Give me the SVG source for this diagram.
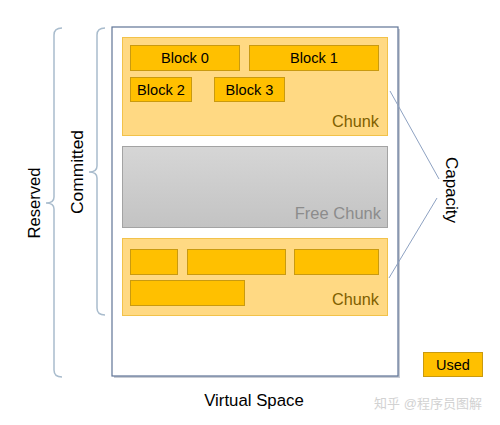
<svg xmlns="http://www.w3.org/2000/svg" width="500" height="425" viewBox="0 0 500 425">
<style>
text{font-family:"Liberation Sans",Arial,sans-serif;fill:#000}
.chunk{fill:#ffd983;stroke:#f2c24a;stroke-width:1}
.blk{fill:#ffc000;stroke:#c99a10;stroke-width:1}
.bt{font-size:14.6px;text-anchor:middle}
.ct{font-size:16.3px;text-anchor:end;fill:#7f6000}
.brace{fill:none;stroke:#a9bccd;stroke-width:1.5}
.cap{stroke:#8ea2c2;stroke-width:1}
</style>
<defs>
<linearGradient id="gray" x1="0" y1="0" x2="0" y2="1">
<stop offset="0" stop-color="#d6d6d6"/>
<stop offset="1" stop-color="#c3c3c3"/>
</linearGradient>
</defs>
<rect width="500" height="425" fill="#fff"/>
<g id="virtual-space">
<rect x="114" y="29" width="286" height="349" fill="#c8ccd4"/>
<rect x="112" y="27" width="286" height="349" fill="#fff" stroke="#5f7496" stroke-width="1.2"/>
<text x="254" y="406" font-size="16.8" text-anchor="middle">Virtual Space</text>
</g>
<g id="chunk1">
<rect class="chunk" x="122.5" y="37.5" width="265" height="98"/>
<text class="ct" x="379" y="127">Chunk</text>
</g>
<g id="block0"><rect class="blk" x="130.5" y="45.5" width="109" height="25"/><text class="bt" x="185" y="63">Block 0</text></g>
<g id="block1"><rect class="blk" x="249.5" y="45.5" width="129" height="25"/><text class="bt" x="314" y="63">Block 1</text></g>
<g id="block2"><rect class="blk" x="130.5" y="77.5" width="61" height="24"/><text class="bt" x="161" y="95">Block 2</text></g>
<g id="block3"><rect class="blk" x="214.5" y="77.5" width="70" height="24"/><text class="bt" x="249.5" y="95">Block 3</text></g>
<g id="free-chunk">
<rect x="122.5" y="146.5" width="265" height="81" fill="url(#gray)" stroke="#a3a3a3"/>
<text x="381" y="219" font-size="16.5" text-anchor="end" style="fill:#8c8c8c">Free Chunk</text>
</g>
<g id="chunk2">
<rect class="chunk" x="122.5" y="238.5" width="265" height="77"/>
<rect class="blk" x="130.5" y="249.5" width="47" height="25"/>
<rect class="blk" x="187.5" y="249.5" width="98" height="25"/>
<rect class="blk" x="294.5" y="249.5" width="84" height="25"/>
<rect class="blk" x="130.5" y="280.5" width="114" height="25"/>
<text class="ct" x="379" y="305">Chunk</text>
</g>
<g id="used">
<rect class="blk" x="423.5" y="352.5" width="59" height="24"/>
<text x="453" y="370" font-size="14.5" text-anchor="middle">Used</text>
</g>
<g id="committed">
<text transform="translate(83,172) rotate(-90)" font-size="17.4" text-anchor="middle">Committed</text>
</g>
<g id="reserved">
<text transform="translate(40,203) rotate(-90)" font-size="16.6" text-anchor="middle">Reserved</text>
</g>
<g id="capacity">
<text transform="translate(446,190) rotate(90)" font-size="17" text-anchor="middle">Capacity</text>
</g>
<g id="connectors">
<path class="brace" d="M105,28 Q97,28 97,35 L97,166 Q97,172 89,172 Q97,172 97,178 L97,308 Q97,315 105,315"/>
<path class="brace" d="M62,28 Q54,28 54,35 L54,197 Q54,203 46,203 Q54,203 54,209 L54,370 Q54,377 62,377"/>
<line class="cap" x1="390" y1="91" x2="439" y2="179"/>
<line class="cap" x1="437" y1="198" x2="389" y2="278"/>
</g>
<text x="428" y="408" font-size="13" text-anchor="middle" style="fill:#d2d2d2;font-family:'Liberation Sans','Noto Sans CJK SC',sans-serif">知乎 @程序员图解</text>
</svg>
